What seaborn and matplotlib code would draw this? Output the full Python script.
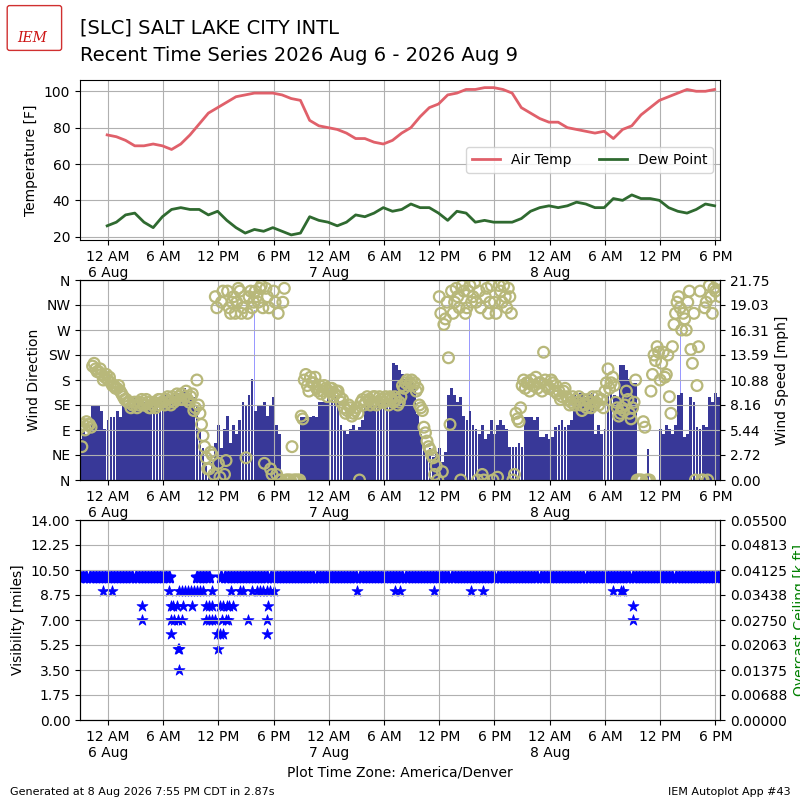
import numpy as np
import pandas as pd
import matplotlib
matplotlib.use('Agg')
import matplotlib.pyplot as plt
import matplotlib.dates as mdates
from matplotlib.patches import FancyBboxPatch
from matplotlib.ticker import FuncFormatter, FixedLocator
import seaborn as sns

title1 = '[SLC] SALT LAKE CITY INTL'
title2 = 'Recent Time Series 2026 Aug 6 - 2026 Aug 9'

# hourly obs, first at 23:55 on Aug 5
temp_f = [76, 75, 73, 70, 70, 71, 70, 68, 71, 76, 82, 88, 91, 94, 97, 98,
          99, 99, 99, 98, 96, 95, 84, 81, 80, 79, 77, 74, 74, 72, 71, 73,
          77, 80, 86, 91, 93, 98, 99, 101, 101, 102, 102, 101, 99, 91, 88, 85,
          83, 83, 80, 79, 78, 77, 78, 74, 79, 81, 87, 91, 95, 97, 99, 101,
          100, 100, 101]
dwpt_f = [26, 28, 32, 33, 28, 25, 31, 35, 36, 35, 35, 32, 34, 29, 25, 22,
          24, 23, 25, 23, 21, 22, 31, 29, 28, 26, 28, 32, 31, 33, 36, 34,
          35, 38, 36, 36, 33, 29, 34, 33, 28, 29, 28, 28, 28, 30, 34, 36,
          37, 36, 37, 39, 38, 36, 36, 41, 40, 43, 41, 41, 40, 36, 34, 33,
          35, 38, 37]

# 20 minute wind obs, first at 21:00 on Aug 5 (3 per hour)
wind_mph = [
    4.5, 5.4, 5.0, 5.4, 8.2, 8.2, 8.2, 7.5, 5.5,            # 21-23
    6.5, 6.9, 6.9, 7.5, 6.9, 8.0, 8.0, 8.2, 8.0,            # 0-2
    9.0, 8.2, 8.2, 8.5, 8.2, 8.2, 8.5, 8.2, 8.8,            # 3-5
    9.2, 9.2, 9.0, 9.2, 9.2, 9.5, 9.2, 10.0, 9.0,           # 6-8
    9.0, 9.0, 8.0, 5.4, 3.5, 1.5, 0.5, 2.0, 4.0,            # 9-11
    6.0, 3.5, 5.5, 7.0, 4.0, 6.0, 5.0, 6.5, 8.5,            # 12-14
    8.0, 9.2, 11.0, 7.5, 8.0, 8.0, 8.5, 7.0, 8.0,           # 15-17
    9.0, 6.0, 5.0, 0, 0, 0, 0, 0, 0,                        # 18-20
    6.9, 6.9, 6.5, 6.9, 7.0, 6.9, 8.5, 8.5, 8.5,            # 21-23
    9.0, 9.2, 9.2, 9.0, 6.0, 5.4, 5.0, 5.5, 6.0,            # 0-2
    5.4, 5.8, 6.5, 8.2, 8.2, 8.0, 8.2, 8.5, 9.0,            # 3-5
    8.5, 9.0, 8.8, 12.7, 12.5, 12.0, 11.5, 11.0, 11.0,      # 6-8
    10.5, 10.0, 7.2, 5.0, 4.0, 3.0, 3.5, 2.5, 3.0,          # 9-11
    3.5, 2.0, 3.0, 9.2, 10.0, 9.2, 8.5, 9.0, 7.0,           # 12-14
    6.5, 7.5, 6.0, 5.5, 5.0, 6.0, 4.5, 5.0, 6.5,            # 15-17
    5.0, 6.0, 6.5, 6.0, 5.5, 3.6, 3.6, 3.6, 4.0,            # 18-20
    3.6, 6.9, 6.9, 6.9, 6.5, 6.9, 4.7, 4.7, 5.0,            # 21-23
    4.5, 4.7, 5.8, 6.0, 6.5, 5.8, 6.0, 6.5, 9.2,            # 0-2
    9.0, 9.5, 9.2, 9.0, 9.2, 9.5, 5.0, 6.0, 5.0,            # 3-5
    5.5, 9.2, 9.5, 9.2, 9.0, 12.5, 12.5, 12.0, 11.0,        # 6-8
    10.5, 10.5, 0, 0, 0, 3.4, 0, 0, 0,                      # 9-11
    5.5, 5.0, 6.0, 5.5, 5.0, 6.0, 9.2, 9.5, 4.7,            # 12-14
    5.0, 9.0, 8.5, 5.8, 5.5, 6.0, 5.8, 9.0, 8.5,            # 15-17
    9.5, 9.0]                                               # 18
# direction at the same times, and a second report 10 minutes later
wind_dir = [
    95, 100, 105, 100, 205, 200, 195, 190, 185,
    180, 175, 170, 165, 160, 150, 145, 140, 135,
    140, 135, 145, 135, 140, 130, 140, 135, 145,
    140, 145, 140, 150, 145, 150, 155, 150, 145,
    150, 125, 180, 120, 80, 40, 20, 45, 330,
    30, 320, 10, 340, 300, 330, 320, 340, 310,
    40, 330, 310, 340, 320, 350, 30, 330, 20,
    340, 10, 0, 320, 0, 0, 60, 0, 0,
    115, 180, 170, 185, 175, 165, 170, 160, 165,
    160, 165, 155, 160, 140, 130, 125, 130, 120,
    130, 0, 145, 140, 145, 140, 150, 140, 145,
    140, 145, 150, 140, 145, 140, 170, 175, 170,
    180, 175, 165, 130, 95, 70, 55, 40, 25,
    330, 15, 290, 220, 340, 320, 330, 0, 340,
    310, 350, 330, 320, 340, 10, 330, 300, 350,
    320, 5, 340, 350, 310, 330, 0, 120, 105,
    170, 165, 175, 180, 170, 165, 175, 230, 170,
    165, 175, 170, 160, 150, 165, 145, 140, 135,
    140, 135, 145, 130, 140, 150, 140, 135, 145,
    160, 200, 175, 170, 130, 120, 125, 160, 120,
    130, 180, 0, 0, 95, 0, 160, 225, 240,
    180, 230, 190, 150, 240, 300, 330, 270, 290,
    320, 235, 300, 170, 340, 0, 320, 350, 300,
    340, 355]
wind_dir_b = [
    60, 90, 100, 95, 210, 195, 200, 180, 190,
    185, 170, 165, 170, 155, 145, 140, 130, 140,
    130, 140, 135, 145, 130, 135, 130, 145, 140,
    135, 150, 135, 140, 155, 145, 145, 160, 140,
    155, 130, 135, 100, 60, 20, 50, 10, 310,
    5, 340, 35, 310, 320, 300, 345, 300, 330,
    300, 340, 320, 330, 345, 310, 345, 310, 10,
    320, 300, 0, 345, 0, 0, 0, 0, 0,
    110, 190, 160, 175, 185, 160, 155, 170, 150,
    165, 150, 160, 150, 145, 120, 135, 115, 125,
    120, 140, 135, 150, 135, 150, 135, 150, 140,
    150, 135, 145, 150, 135, 150, 165, 180, 175,
    170, 160, 135, 125, 85, 60, 45, 10, 0,
    300, 280, 320, 100, 300, 345, 310, 350, 300,
    340, 320, 355, 0, 310, 0, 345, 320, 0,
    300, 350, 320, 330, 345, 300, 10, 110, 130,
    180, 175, 160, 170, 185, 175, 160, 180, 165,
    180, 160, 155, 145, 160, 150, 135, 150, 145,
    150, 125, 135, 145, 130, 135, 150, 145, 130,
    175, 165, 185, 140, 115, 130, 135, 145, 110,
    140, 0, 0, 105, 0, 0, 190, 215, 230,
    210, 185, 225, 120, 280, 320, 310, 300, 270,
    340, 210, 0, 240, 0, 310, 0, 330, 345,
    360, 330]

gust_time = ['2026-08-06 15:55', '2026-08-06 16:05', '2026-08-06 16:50',
             '2026-08-07 15:18', '2026-08-07 15:48', '2026-08-08 14:12']
gust_mph = [18.5, 18.0, 19.0, 18.2, 18.0, 16.3]

# visibility on the same 20 minute clock, nan = no 10 mile report
nan = np.nan
vis_miles = [
    10, 10, 10, 10, 10, 10, 10, 10, 10,
    10, 10, 10, 10, 10, 10, 10, 10, 10,
    10, 10, 10, 10, 10, 10, 10, 10, 10,
    10, 10, 10, nan, nan, nan, nan, nan, nan,
    nan, nan, 10, 10, 10, 10, 10, nan, nan,
    nan, 10, 10, 10, 10, 10, 10, 10, 10,
    10, 10, 10, 10, 10, 10, 10, 10, 10,
    10, 10, 10, 10, 10, 10, 10, 10, 10,
    10, 10, 10, 10, 10, 10, 10, 10, 10,
    10, 10, 10, 10, 10, 10, 10, 10, 10,
    10, 10, 10, 10, 10, 10, 10, 10, 10,
    10, 10, 10, 10, 10, 10, 10, 10, 10,
    10, 10, 10, 10, 10, 10, 10, 10, 10,
    10, 10, 10, 10, 10, 10, 10, 10, 10,
    10, 10, 10, 10, 10, 10, 10, 10, 10,
    10, 10, 10, 10, 10, 10, 10, 10, 10,
    10, 10, 10, 10, 10, 10, 10, 10, 10,
    10, 10, 10, 10, 10, 10, 10, 10, 10,
    10, 10, 10, 10, 10, 10, 10, 10, 10,
    10, 10, 10, 10, 10, 10, 10, 10, 10,
    10, 10, 10, 10, 10, 10, 10, 10, 10,
    10, 10, 10, 10, 10, 10, 10, 10, 10,
    10, 10, 10, 10, 10, 10, 10, 10, 10,
    10, 10]
# reduced visibility reports, hours after 00:00 Aug 6
vis_low_hour = [-0.5, 0.4, 6.67, 7.67, 8.0, 8.33, 8.67, 9.0, 9.33, 9.67,
                10.0, 10.33, 11.27, 13.4, 14.3, 14.7, 15.6, 16.2, 16.5,
                16.9, 17.3, 17.6, 18.0, 27.1, 31.2, 31.7, 35.4, 39.5, 40.8,
                54.9, 55.7, 56.0,
                3.66, 6.8, 7.1, 7.46, 8.19, 9.1, 10.7, 11.0, 11.27, 12.17,
                12.5, 12.9, 13.2, 13.6, 17.4, 57.1,
                3.66, 6.8, 7.2, 7.6, 8.0, 10.7, 11.0, 11.3, 11.63, 12.4,
                12.8, 13.1, 15.2, 17.25, 57.1,
                6.85, 11.8, 12.2, 12.5, 17.3,
                7.57, 7.7, 12.0,
                7.75]
vis_low_miles = [9] * 32 + [8] * 16 + [7] * 15 + [6] * 5 + [5] * 3 + [3.5]

dir_labels = ['N', 'NE', 'E', 'SE', 'S', 'SW', 'W', 'NW', 'N']

temp_times = pd.date_range('2026-08-05 23:55', periods=len(temp_f), freq='h')
wind_times = pd.date_range('2026-08-05 21:00', periods=len(wind_mph), freq='20min')
wind_times_b = wind_times + pd.Timedelta(minutes=10)
vis_times = pd.date_range('2026-08-05 21:00', periods=len(vis_miles), freq='20min')
midnight = pd.Timestamp('2026-08-06 00:00')
low_times = midnight + pd.to_timedelta(vis_low_hour, unit='h')

xmin = pd.Timestamp('2026-08-05 20:58')
xmax = pd.Timestamp('2026-08-08 18:30')
xticks = mdates.date2num(pd.date_range('2026-08-06 00:00', '2026-08-08 18:00', freq='6h'))


def time_label(x, pos=None):
    dt = mdates.num2date(x)
    lab = dt.strftime('%I %p').lstrip('0')
    if dt.hour == 0:
        lab += '\n%d %s' % (dt.day, dt.strftime('%b'))
    return lab


def fix_xaxis(ax):
    ax.set_xlim(mdates.date2num(xmin), mdates.date2num(xmax))
    ax.xaxis.set_major_locator(FixedLocator(xticks))
    ax.xaxis.set_major_formatter(FuncFormatter(time_label))
    ax.set_xlabel('')


fig = plt.figure(figsize=(8, 8), dpi=100)

# header
fig.text(0.1, 0.965, title1, fontsize=14, va='center')
fig.text(0.1, 0.931, title2, fontsize=14, va='center')
fig.patches.append(FancyBboxPatch((0.012, 0.94), 0.062, 0.05, boxstyle='round,pad=0.003',
                                  transform=fig.transFigure, fc='none', ec='#d03030', lw=1))
fig.text(0.04, 0.952, 'IEM', color='#cc1111', fontsize=10, style='italic',
         family='serif', ha='center', va='center')
fig.text(0.012, 0.01, 'Generated at 8 Aug 2026 7:55 PM CDT in 2.87s', fontsize=8, va='center')
fig.text(0.988, 0.01, 'IEM Autoplot App #43', fontsize=8, va='center', ha='right')

# temperature panel
ax_t = fig.add_axes([0.1, 0.7, 0.8, 0.2])
sns.lineplot(x=temp_times, y=temp_f, ax=ax_t, color='#e0606a', lw=2, label='Air Temp')
sns.lineplot(x=temp_times, y=dwpt_f, ax=ax_t, color='#2f6a30', lw=2, label='Dew Point')
ax_t.set_ylim(18.2, 106.2)
ax_t.set_yticks([20, 40, 60, 80, 100])
ax_t.set_ylabel('Temperature [F]')
ax_t.grid(True)
ax_t.legend(loc='center right', ncol=2)
fix_xaxis(ax_t)

# wind panel: speed bars on the base axes, direction on the twin
ax_w = fig.add_axes([0.1, 0.4, 0.8, 0.25])
ax_w.bar(mdates.date2num(gust_time), gust_mph, width=3 / 1440, color='#9999ff', zorder=1)
ax_w.bar(mdates.date2num(wind_times), wind_mph, width=18 / 1440, color='#383898', zorder=1)
ax_w.set_ylim(0, 21.75)
ax_w.set_yticks(np.linspace(0, 21.75, 9))
ax_w.yaxis.set_major_formatter(FuncFormatter(lambda v, p: '%.2f' % v))
ax_w.set_axisbelow(False)
ax_w.grid(True)
fix_xaxis(ax_w)

ax_d = ax_w.twinx()
for t, d in [(wind_times, wind_dir), (wind_times_b, wind_dir_b)]:
    sns.scatterplot(x=mdates.date2num(t), y=d, ax=ax_d, s=60,
                    facecolor='none', edgecolor='#b8b87a', linewidth=1.6)
ax_d.set_ylim(0, 360)
ax_d.set_yticks(np.arange(0, 361, 45))
ax_d.set_yticklabels(dir_labels)
ax_d.yaxis.tick_left()
ax_d.yaxis.set_label_position('left')
ax_d.set_ylabel('Wind Direction')
fix_xaxis(ax_d)
ax_w.yaxis.tick_right()
ax_w.yaxis.set_label_position('right')
ax_w.set_ylabel('Wind Speed [mph]')

# visibility panel
ax_v = fig.add_axes([0.1, 0.1, 0.8, 0.25])
sns.scatterplot(x=mdates.date2num(vis_times), y=vis_miles, ax=ax_v, marker='*',
                s=70, color='blue', edgecolor='blue', linewidth=1.8)
sns.scatterplot(x=mdates.date2num(low_times), y=vis_low_miles, ax=ax_v, marker='*',
                s=70, color='blue', edgecolor='blue', linewidth=0.5)
ax_v.set_ylim(0, 14)
ax_v.set_yticks(np.linspace(0, 14, 9))
ax_v.yaxis.set_major_formatter(FuncFormatter(lambda v, p: '%.2f' % v))
ax_v.set_ylabel('Visibility [miles]')
ax_v.set_axisbelow(False)
ax_v.grid(True)
fix_xaxis(ax_v)
ax_v.set_xlabel('Plot Time Zone: America/Denver')

ax_c = ax_v.twinx()
ax_c.set_ylim(0, 0.055)
ax_c.set_yticks(np.linspace(0, 0.055, 9))
ax_c.yaxis.set_major_formatter(FuncFormatter(lambda v, p: '%.5f' % v))
ax_c.set_ylabel('Overcast Ceiling [k ft]', color='g')

fig.savefig('out.png', dpi=100)
